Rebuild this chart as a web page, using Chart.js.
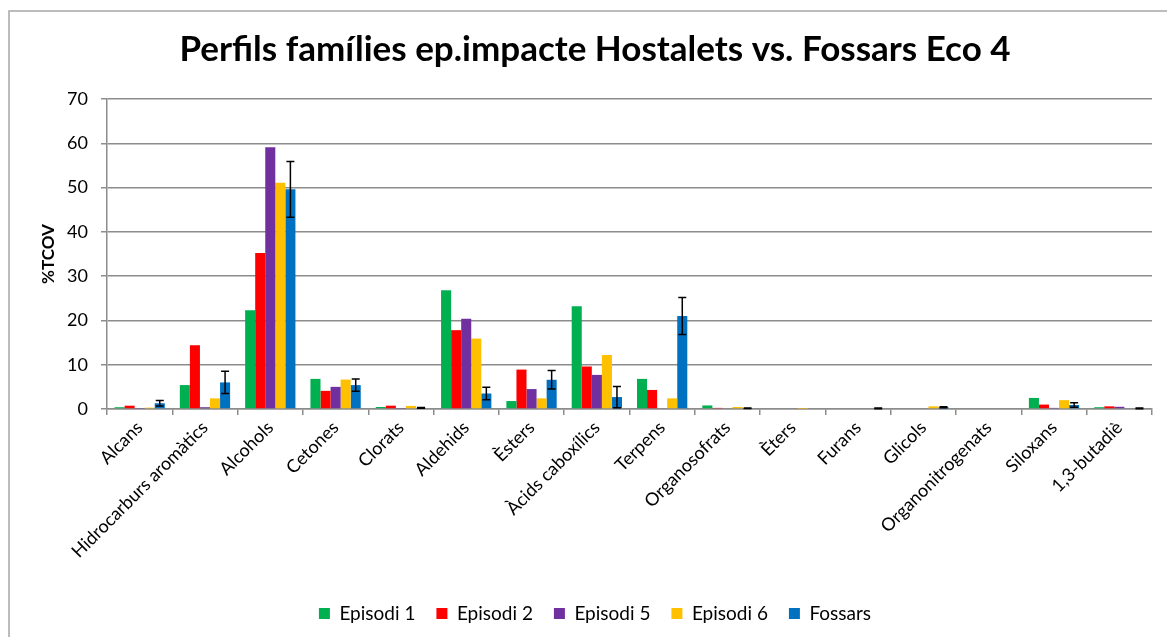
<!DOCTYPE html>
<html>
<head>
<meta charset="utf-8">
<script src="https://cdn.jsdelivr.net/npm/chart.js@4.4.1/dist/chart.umd.min.js"></script>
<style>
  html, body { margin: 0; padding: 0; background: #fff; }
  #wrap { width: 1167px; height: 637px; }
</style>
</head>
<body>
<div id="wrap"><canvas id="myChart"></canvas></div>
<script>
const categories = ["Alcans", "Hidrocarburs aromàtics", "Alcohols", "Cetones", "Clorats", "Aldehids", "Èsters",
    "Àcids caboxílics", "Terpens", "Organosofrats", "Èters", "Furans", "Glicols", "Organonitrogenats", "Siloxans", "1,3-butadiè"];
const episodi1 = [0.4, 5.4, 22.3, 6.8, 0.45, 26.8, 1.8, 23.2, 6.8, 0.8, 0, 0, 0, 0, 2.5, 0.4];
const episodi2 = [0.75, 14.4, 35.2, 4.1, 0.75, 17.8, 8.9, 9.6, 4.3, 0.25, 0, 0, 0, 0, 1.0, 0.6];
const episodi5 = [0.1, 0.4, 59.1, 5.0, 0.1, 20.4, 4.5, 7.7, 0, 0, 0, 0, 0, 0, 0.25, 0.5];
const episodi6 = [0.3, 2.4, 51.1, 6.65, 0.7, 15.9, 2.4, 12.2, 2.4, 0.45, 0.05, 0, 0.6, 0, 2.0, 0];
const fossars = [1.3, 6.0, 49.6, 5.4, 0.25, 3.5, 6.6, 2.7, 21.0, 0.15, 0, 0.15, 0.4, 0, 0.9, 0.15];
const fossarsErr = [0.6, 2.5, 6.3, 1.4, 0.1, 1.4, 2.1, 2.4, 4.2, 0.05, 0, 0.1, 0.1, 0, 0.5, 0.1];
const yTicks = [0, 10, 20, 30, 40, 50, 60, 70];

const font = "Lato, 'Open Sans', sans-serif";
const gridGray = "#8c8c8c";

// outer frame of the chart
const framePlugin = {
    id: "frame",
    beforeDraw(chart) {
        const ctx = chart.ctx;
        ctx.save();
        ctx.fillStyle = "#fff";
        ctx.fillRect(0, 0, chart.width, chart.height);
        ctx.strokeStyle = "#a6a6a6";
        ctx.lineWidth = 1.5;
        ctx.strokeRect(9, 11, chart.width + 20, chart.height + 20);
        ctx.restore();
    }
};

// error bars on the Fossars series
const errorBarPlugin = {
    id: "errorBars",
    afterDatasetsDraw(chart) {
        const meta = chart.getDatasetMeta(4);
        const y = chart.scales.y;
        const ctx = chart.ctx;
        ctx.save();
        ctx.strokeStyle = "#000";
        ctx.lineWidth = 1.5;
        meta.data.forEach((bar, i) => {
            const e = fossarsErr[i];
            if (!e) return;
            const top = y.getPixelForValue(fossars[i] + e);
            const bot = y.getPixelForValue(Math.max(fossars[i] - e, 0));
            ctx.beginPath();
            ctx.moveTo(bar.x, top);
            ctx.lineTo(bar.x, bot);
            ctx.moveTo(bar.x - 4, top);
            ctx.lineTo(bar.x + 4, top);
            ctx.moveTo(bar.x - 4, bot);
            ctx.lineTo(bar.x + 4, bot);
            ctx.stroke();
        });
        ctx.restore();
    }
};

const mk = (label, data, color) => ({
    label: label,
    data: data,
    backgroundColor: color,
    borderWidth: 0,
    barPercentage: 1,
    categoryPercentage: 0.77
});

new Chart(document.getElementById("myChart"), {
    type: "bar",
    data: {
        labels: categories,
        datasets: [
            mk("Episodi 1", episodi1, "#00b050"),
            mk("Episodi 2", episodi2, "#ff0000"),
            mk("Episodi 5", episodi5, "#7030a0"),
            mk("Episodi 6", episodi6, "#ffc000"),
            mk("Fossars", fossars, "#0070c0")
        ]
    },
    options: {
        responsive: true,
        maintainAspectRatio: false,
        animation: false,
        layout: { padding: { left: 38, right: 15, top: 0, bottom: 4 } },
        plugins: {
            title: {
                display: true,
                text: "Perfils famílies ep.impacte Hostalets vs. Fossars Eco 4",
                color: "#000",
                font: { family: font, size: 35, weight: "bold", lineHeight: 1.2 },
                padding: { top: 29, bottom: 28 }
            },
            legend: {
                position: "bottom",
                labels: {
                    color: "#000",
                    font: { family: font, size: 19 },
                    boxWidth: 11,
                    boxHeight: 11,
                    padding: 21
                }
            },
            tooltip: { enabled: false }
        },
        scales: {
            x: {
                grid: { display: true, drawOnChartArea: false, drawTicks: true, tickLength: 6, color: gridGray, lineWidth: 1.5 },
                border: { color: gridGray, width: 1.5 },
                ticks: { color: "#000", font: { family: font, size: 18 }, minRotation: 45, maxRotation: 45, autoSkip: false, padding: 2 },
                afterFit(scale) { scale.height = 174; }
            },
            y: {
                min: 0,
                max: 70,
                afterBuildTicks(scale) { scale.ticks = yTicks.map(v => ({ value: v })); },
                grid: { color: gridGray, lineWidth: 1.5, tickLength: 6 },
                border: { color: gridGray, width: 1.5 },
                ticks: { color: "#000", font: { family: font, size: 18 }, padding: 13 },
                title: { display: true, text: "%TCOV", color: "#000", font: { family: font, size: 17, weight: "bold" }, padding: { top: 0, bottom: 0 } },
                afterFit(scale) { scale.width = 69; }
            }
        }
    },
    plugins: [framePlugin, errorBarPlugin]
});
</script>
</body>
</html>
